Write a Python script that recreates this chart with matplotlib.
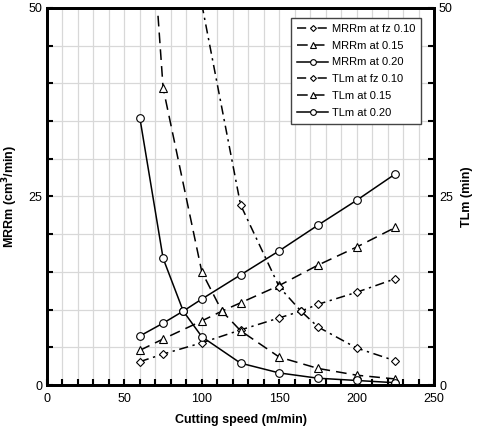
import matplotlib
matplotlib.use("Agg")
import matplotlib.pyplot as plt
from matplotlib.ticker import MultipleLocator

plt.rcParams['font.family'] = ['Liberation Sans', 'DejaVu Sans']

# Data (cutting speed m/min)
v_mrr10 = [60, 75, 100, 125, 150, 164, 175, 200, 225]
mrr10 = [3.1, 4.1, 5.6, 7.3, 8.9, 9.8, 10.7, 12.3, 14.1]
v_mrr15 = [60, 75, 100, 113, 125, 150, 175, 200, 225]
mrr15 = [4.6, 6.1, 8.5, 9.8, 10.9, 13.2, 15.9, 18.3, 20.9]
v_mrr20 = [60, 75, 88, 100, 125, 150, 175, 200, 225]
mrr20 = [6.5, 8.2, 9.8, 11.4, 14.6, 17.8, 21.2, 24.5, 28.0]

v_tl10 = [100, 125, 150, 164, 175, 200, 225]
tl10 = [50.5, 23.9, 13.0, 9.8, 7.7, 4.9, 3.2]
v_tl15 = [60, 75, 100, 113, 125, 150, 175, 200, 225]
tl15 = [83.0, 39.4, 15.0, 9.8, 7.2, 3.7, 2.2, 1.3, 0.8]
v_tl20 = [60, 75, 88, 100, 125, 150, 175, 200, 225]
tl20 = [35.4, 16.8, 9.8, 6.4, 2.9, 1.6, 0.9, 0.6, 0.3]

labels = ['MRRm at fz 0.10', 'MRRm at 0.15', 'MRRm at 0.20',
          'TLm at fz 0.10', 'TLm at 0.15', 'TLm at 0.20']

fig = plt.figure(figsize=(4.84, 4.34), dpi=100)
ax = fig.add_axes([0.097, 0.1129, 0.800, 0.8687])

dashdot = (0, (6, 3, 1.5, 3))
dashed = (0, (7, 4))
common = dict(color='black', lw=1.1, mfc='white', mec='black', mew=0.8)

ax.plot(v_mrr10, mrr10, linestyle=dashdot, marker='D', ms=4, label=labels[0], **common)
ax.plot(v_mrr15, mrr15, linestyle=dashed, marker='^', ms=5.5, label=labels[1], **common)
ax.plot(v_mrr20, mrr20, linestyle='-', marker='o', ms=5.5, label=labels[2], **common)
ax.plot(v_tl10, tl10, linestyle=dashdot, marker='D', ms=4, label=labels[3], **common)
ax.plot(v_tl15, tl15, linestyle=dashed, marker='^', ms=5.5, label=labels[4], **common)
ax.plot(v_tl20, tl20, linestyle='-', marker='o', ms=5.5, label=labels[5], **common)

ax.set_xlim(0, 250)
ax.set_ylim(0, 50)
ax.xaxis.set_major_locator(MultipleLocator(50))
ax.xaxis.set_minor_locator(MultipleLocator(10))
ax.yaxis.set_major_locator(MultipleLocator(25))
ax.yaxis.set_minor_locator(MultipleLocator(5))
ax.grid(True, which='both', color='#d8d8d8', lw=0.9)
ax.set_axisbelow(True)
ax.tick_params(which='both', direction='in', labelsize=9, width=1.5)
ax.tick_params(which='major', length=4)
ax.tick_params(which='minor', length=4)
ax.tick_params(axis='x', pad=6)
for s in ax.spines.values():
    s.set_linewidth(2)

ax.set_xlabel('Cutting speed (m/min)', fontsize=9, fontweight='bold', labelpad=6)
ax.set_ylabel('MRRm (cm$^{\\mathbf{3}}$/min)', fontsize=9, fontweight='bold', labelpad=6)

ax2 = ax.twinx()
ax2.set_ylim(0, 50)
ax2.yaxis.set_major_locator(MultipleLocator(25))
ax2.yaxis.set_minor_locator(MultipleLocator(5))
ax2.tick_params(which='both', direction='in', labelsize=9, width=1.5, length=4)
ax2.set_ylabel('TLm (min)', fontsize=9, fontweight='bold', labelpad=6)
for s in ax2.spines.values():
    s.set_linewidth(2)

leg = ax.legend(loc='upper right', bbox_to_anchor=(0.966, 0.973), fontsize=8,
                handlelength=2.8, handletextpad=0.35, borderpad=0.5,
                labelspacing=0.62, fancybox=False, framealpha=1,
                edgecolor='#444444', borderaxespad=0, markerscale=0.75)
leg.get_frame().set_linewidth(1.0)
for h in leg.get_lines():
    h.set_linewidth(1.1)

fig.savefig('out.png', dpi=100)
